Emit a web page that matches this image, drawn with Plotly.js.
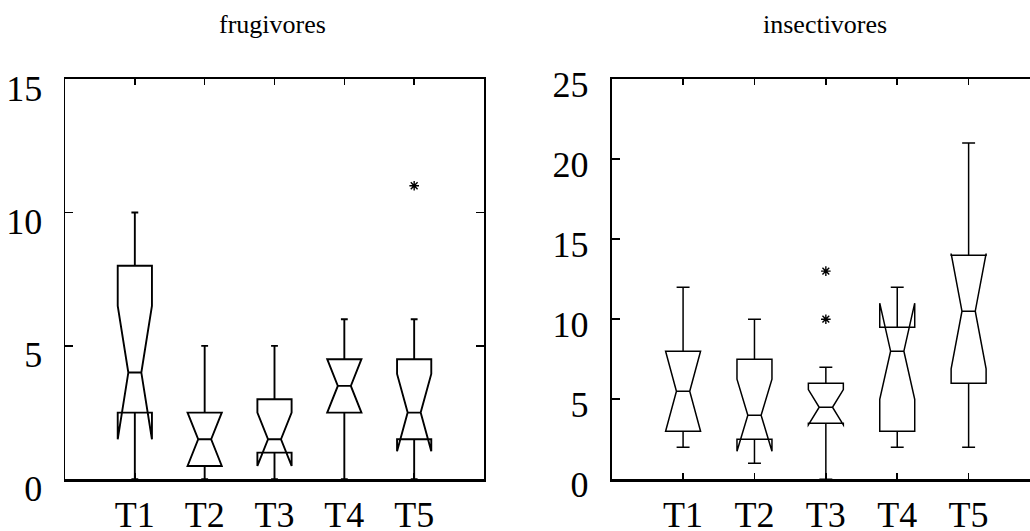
<!DOCTYPE html>
<html>
<head>
<meta charset="utf-8">
<script src="https://cdn.plot.ly/plotly-3.0.1.min.js"></script>
<style>
html,body{margin:0;padding:0;overflow:hidden;background:#fff;}
#chart{width:1045px;height:531px;}
</style>
</head>
<body>
<div id="chart"></div>
<script>
// ---- data ----
var categories = ['T1', 'T2', 'T3', 'T4', 'T5'];

// frugivores (left panel)
var frugLower  = [0, 0, 0, 0, 0];
var frugQ1     = [2.5, 0.5, 1, 2.5, 1.5];
var frugMedian = [4, 1.5, 1.5, 3.5, 2.5];
var frugQ3     = [8, 2.5, 3, 4.5, 4.5];
var frugUpper  = [10, 5, 5, 6, 6];
var frugNotch  = [2.5, 1, 1, 1, 1.45];
var frugOutX   = ['T5'];
var frugOutY   = [11];

// insectivores (right panel)
var insLower  = [2, 1, 0, 2, 2];
var insQ1     = [3, 2.5, 3.5, 3, 6];
var insMedian = [5.5, 4, 4.5, 8, 10.5];
var insQ3     = [8, 7.5, 6, 9.5, 14];
var insUpper  = [12, 10, 7, 12, 21];
var insNotch  = [2.5, 2.25, 1.1, 3, 3.6];
var insOutX   = ['T3', 'T3'];
var insOutY   = [10, 13];

var titles = ['frugivores', 'insectivores'];
var yTicks1 = [0, 5, 10, 15];
var yTicks2 = [0, 5, 10, 15, 20, 25];

// ---- chart ----
var W = 1045, H = 531;
var serif = '"Liberation Serif", "Times New Roman", serif';

function boxTrace(q1, med, q3, lf, uf, notch, xa, ya, lw, ww) {
  return {
    type: 'box', x: categories, q1: q1, median: med, q3: q3,
    lowerfence: lf, upperfence: uf, notchspan: notch, notched: true,
    notchwidth: 0.31, width: 0.49, whiskerwidth: ww, boxpoints: false,
    xaxis: xa, yaxis: ya, fillcolor: 'rgba(0,0,0,0)',
    line: {color: '#000', width: lw}, hoverinfo: 'skip', showlegend: false
  };
}
function outTrace(xs, ys, xa, ya) {
  return {
    type: 'scatter', mode: 'markers', x: xs, y: ys, xaxis: xa, yaxis: ya,
    marker: {symbol: 'asterisk-open', size: 8, color: '#000', line: {color: '#000', width: 1.4}},
    showlegend: false, hoverinfo: 'skip'
  };
}

var data = [
  boxTrace(frugQ1, frugMedian, frugQ3, frugLower, frugUpper, frugNotch, 'x', 'y', 1.9, 0.2),
  outTrace(frugOutX, frugOutY, 'x', 'y'),
  boxTrace(insQ1, insMedian, insQ3, insLower, insUpper, insNotch, 'x2', 'y2', 1.5, 0.37),
  outTrace(insOutX, insOutY, 'x2', 'y2')
];

function xAxis(dom, anchor) {
  return {
    domain: dom, anchor: anchor, type: 'category', categoryarray: categories,
    range: [-1, 5], showgrid: false, zeroline: false,
    showline: true, linewidth: 2.5, linecolor: '#000', mirror: 'ticks',
    ticks: 'inside', ticklen: 6, tickwidth: 1.5, tickcolor: '#000',
    ticklabelstandoff: 2,
    tickfont: {family: serif, size: 36, color: '#000'}
  };
}
function yAxis(dom, anchor, range, tv, lw, shift) {
  return {
    domain: dom, anchor: anchor, range: range, tickvals: tv, ticktext: tv.map(String),
    showgrid: false, zeroline: false,
    showline: true, linewidth: lw, linecolor: '#000', mirror: 'ticks',
    ticks: 'inside', ticklen: 8, tickwidth: 1.5, tickcolor: '#000',
    ticklabelstandoff: 14, ticklabelshift: shift,
    tickfont: {family: serif, size: 36, color: '#000'}
  };
}

var yDom = [1 - 479.3 / H, 1 - 79 / H];
var layout = {
  width: W, height: H,
  margin: {l: 0, r: 0, t: 0, b: 0},
  paper_bgcolor: '#fff', plot_bgcolor: '#fff',
  xaxis: xAxis([65 / W, 484 / W], 'y'),
  yaxis: yAxis(yDom, 'x', [0, 15], yTicks1, 1.5, 9),
  xaxis2: xAxis([611.7 / W, 1040 / W], 'y2'),
  yaxis2: yAxis(yDom, 'x2', [0, 25], yTicks2, 2, 5),
  annotations: [
    {text: titles[0], xref: 'paper', yref: 'paper', x: 272 / W, y: 1 - 24 / H,
     xanchor: 'center', yanchor: 'middle', showarrow: false,
     font: {family: serif, size: 26, color: '#000'}},
    {text: titles[1], xref: 'paper', yref: 'paper', x: 825 / W, y: 1 - 24 / H,
     xanchor: 'center', yanchor: 'middle', showarrow: false,
     font: {family: serif, size: 26, color: '#000'}}
  ]
};

Plotly.newPlot('chart', data, layout, {staticPlot: true, displayModeBar: false});
</script>
</body>
</html>
